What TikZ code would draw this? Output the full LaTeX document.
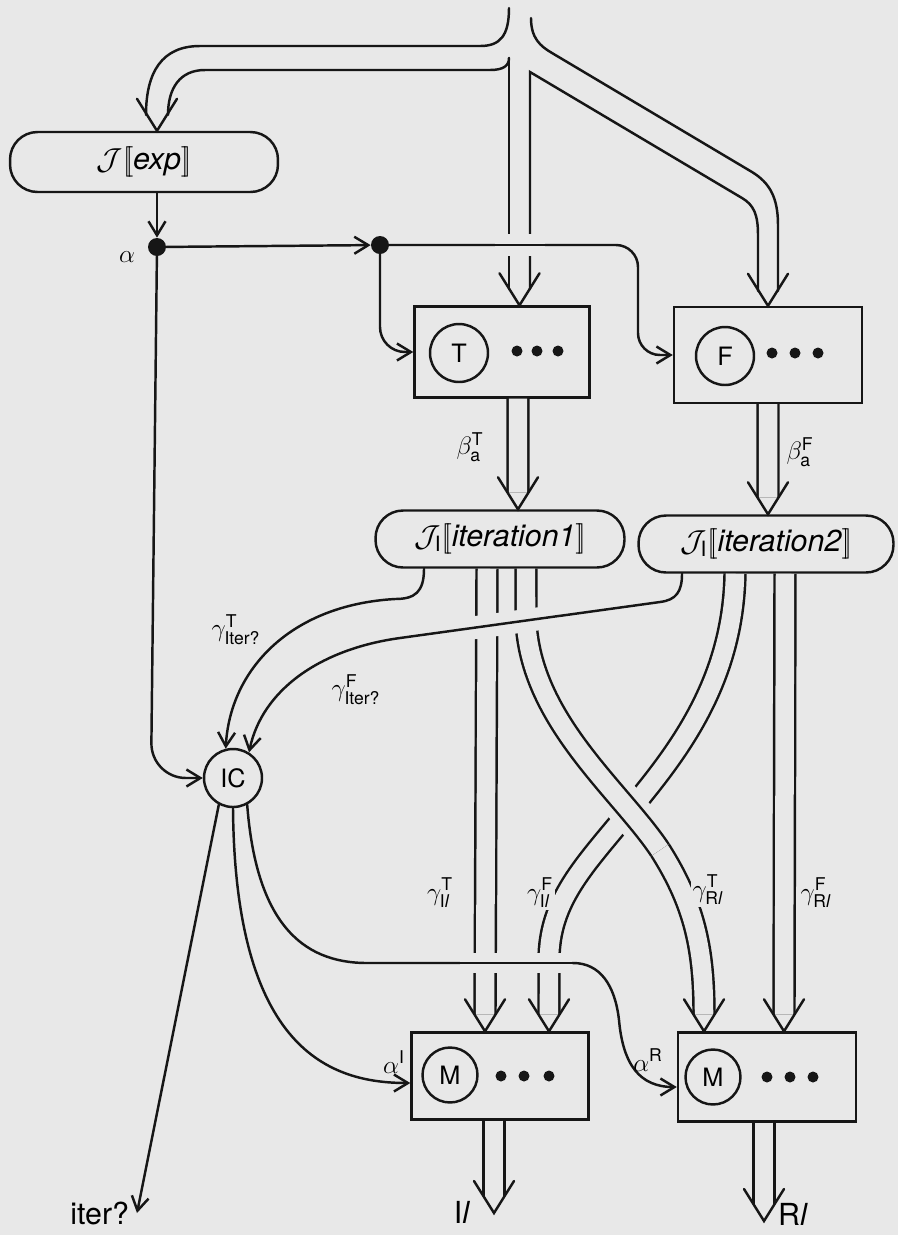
\documentclass[tikz,border=0pt]{standalone}
\usepackage{amsmath}
\usepackage{fontspec}
\setmainfont{TeX Gyre Heros}
\usetikzlibrary{arrows.meta, positioning}
\definecolor{paper}{RGB}{232,232,232}
\definecolor{ink}{RGB}{22,22,22}
\tikzset{
  wire/.style = {draw = ink, line width = 1.4pt, line cap = round},
  arr/.style = {wire, -{Straight Barb[length = 0.28cm, width = 0.34cm]}},
  pipe/.style = {draw = ink, line width = 1.4pt, double = paper, double distance = 0.37cm},
  gap/.style = {wire, preaction = {draw = paper, line width = #1, line cap = butt}},
  pill/.style = {draw = ink, line width = 1.4pt, rounded corners = 0.55cm, font = \LARGE, inner sep = 0pt},
  box/.style = {draw = ink, line width = 1.4pt, inner sep = 0pt},
  disc/.style = {circle, draw = ink, line width = 1.4pt, inner sep = 0pt, font = \Large},
  dot/.style = {circle, fill = ink, inner sep = 0pt, minimum size = 0.36cm},
  lab/.style = {font = \Large, inner sep = 1pt},
  vhead/.pic = {\draw[wire] (-20, -32) -- (0, 0) -- (20, -32);}
}

\begin{document}
\begin{tikzpicture}[x = 0.02cm, y = -0.02cm]
  \fill[paper, use as bounding box] (0, 0) rectangle (898, 1235);

  \node[pill, minimum width = 5.36cm, minimum height = 1.2cm] (exp) at (144, 162)
    {$\mathcal{J}[\![$\textit{exp}$]\!]$};
  \node[pill, minimum width = 4.98cm, minimum height = 1.14cm] (it1) at (500, 539)
    {$\mathcal{J}_{\text{I}}[\![$\textit{iteration1}$]\!]$};
  \node[pill, minimum width = 5.1cm, minimum height = 1.14cm] (it2) at (766, 544)
    {$\mathcal{J}_{\text{I}}[\![$\textit{iteration2}$]\!]$};

  \node[box, minimum width = 3.5cm, minimum height = 1.82cm] (tbox) at (502, 352) {};
  \node[box, minimum width = 3.76cm, minimum height = 1.92cm] (fbox) at (768, 355) {};
  \node[box, minimum width = 3.54cm, minimum height = 1.74cm] (mbox1) at (500, 1076) {};
  \node[box, minimum width = 3.56cm, minimum height = 1.78cm] (mbox2) at (767, 1077) {};
  \node[disc, minimum size = 1.16cm] (tc) at (459, 353) {T};
  \node[disc, minimum size = 1.16cm] (fc) at (725, 356) {F};
  \node[disc, minimum size = 1.1cm] (mc1) at (450, 1075) {M};
  \node[disc, minimum size = 1.1cm] (mc2) at (713, 1077) {M};
  \node[disc, minimum size = 1.16cm] (ic) at (233, 778) {IC};
  \node[dot] (d1) at (157, 247) {};
  \node[dot] (d2) at (380, 245) {};
  \node[lab] (alab) at (127, 257) {$\alpha$};

  \foreach \x/\y in {517/351, 537/351, 558/351, 772/353, 795/353, 818/353,
                     501/1076, 524/1076, 549/1076, 767/1077, 790/1077, 813/1077}
    \fill[ink] (\x, \y) circle [radius = 0.11cm];

  \draw[wire] (509, 8) .. controls (509, 36) and (500, 46) .. (480, 46)
    -- (200, 46) .. controls (162, 46) and (146, 72) .. (146, 115);
  \draw[wire] (168, 115) .. controls (168, 88) and (180, 70) .. (205, 70)
    -- (490, 70) .. controls (503, 70) and (509, 66) .. (509, 58);
  \draw[wire] (509, 58) -- (509, 289);
  \draw[wire] (530, 289) -- (530, 72) -- (742, 198)
    .. controls (754, 205) and (758, 215) .. (758, 235) -- (758, 291);
  \draw[wire] (531, 18) .. controls (531, 38) and (540, 46) .. (552, 53) -- (752, 172)
    .. controls (770, 183) and (778, 198) .. (778, 225) -- (778, 291);
  \pic at ([xshift = 0.26cm]exp.north) {vhead};
  \pic at ([xshift = 0.35cm]tbox.north) {vhead};
  \pic at (fbox.north) {vhead};

  \draw[arr] (exp.south -| d1) -- (d1);
  \draw[arr] (d1) -- (d2);
  \draw[arr, rounded corners = 0.44cm] (d2) -- (638, 245) -- (638, 355) -- (fbox.west);
  \draw[gap = 0.44cm] (495, 245) -- (545, 245);
  \draw[arr, rounded corners = 0.5cm] (d2) -- (380, 352) -- (tbox.west);
  \draw[arr, rounded corners = 0.7cm] (d1) -- (151, 778) -- (ic.west);

  \coordinate (inBT) at ([xshift = 0.36cm]it1.north);
  \coordinate (inBF) at ([xshift = 0.04cm]it2.north);
  \draw[pipe] ([xshift = 0.32cm]tbox.south) -- ([yshift = 0.34cm]inBT);
  \pic at (inBT) {vhead};
  \draw[pipe] (fbox.south) -- ([yshift = 0.34cm]inBF);
  \pic at (inBF) {vhead};
  \node[lab] (bt) at (470, 447) {$\beta^{\text{T}}_{\text{a}}$};
  \node[lab] (bf) at (800, 452) {$\beta^{\text{F}}_{\text{a}}$};

  \coordinate (inA) at ([xshift = -0.3cm]mbox1.north);
  \coordinate (inC) at ([xshift = 0.98cm]mbox1.north);
  \coordinate (inB) at ([xshift = -1.26cm]mbox2.north);
  \coordinate (inD) at ([xshift = 0.34cm]mbox2.north);
  \draw[pipe] ([xshift = -0.26cm]it1.south) -- ([yshift = 0.34cm]inA);
  \draw[pipe] ([xshift = 0.38cm]it2.south) -- ([yshift = 0.34cm]inD);
  \draw[pipe] ([xshift = -0.62cm]it2.south) .. controls (733, 680) and (680, 750) .. (630, 810)
    .. controls (585, 865) and (549, 900) .. (549, 960) -- ([yshift = 0.34cm]inC);
  \draw[pipe] ([xshift = 0.52cm]it1.south) -- (526, 620) .. controls (530, 720) and (620, 790) .. (660, 850)
    .. controls (695, 905) and (704, 950) .. ([yshift = 0.34cm]inB);
  \draw[pipe, preaction = {draw = paper, line width = 0.8cm}]
    (526, 620) .. controls (530, 720) and (620, 790) .. (660, 850);
  \foreach \tip in {inA, inB, inC, inD}
    \pic at (\tip) {vhead};

  \draw[arr] ([xshift = -1.52cm]it1.south) .. controls (424, 592) and (415, 599) .. (395, 599)
    .. controls (290, 605) and (230, 670) .. (ic.104);
  \draw[arr] ([xshift = -1.68cm]it2.south) .. controls (682, 592) and (676, 600) .. (660, 602)
    -- (400, 638) .. controls (320, 649) and (262, 690) .. (ic.58);
  \draw[gap = 0.46cm] (560, 615.8) -- (460, 629.7);
  \node[lab] (gti) at (236, 630) {$\gamma^{\text{T}}_{\text{Iter?}}$};
  \node[lab] (gfi) at (356, 690) {$\gamma^{\text{F}}_{\text{Iter?}}$};

  \draw[arr] (ic.south) .. controls (235, 1050) and (330, 1083) .. ([yshift = -0.14cm]mbox1.west);
  \draw[arr] (ic.298) .. controls (256, 920) and (300, 963) .. (367, 963) -- (573, 963)
    .. controls (600, 963) and (615, 985) .. (619, 1020)
    .. controls (623, 1065) and (640, 1087) .. ([yshift = -0.2cm]mbox2.west);
  \draw[gap = 0.4cm] (460, 963) -- (572, 963);
  \node[lab] (ai) at (394, 1062) {$\alpha^{\text{I}}$};
  \node[lab] (ar) at (648, 1060) {$\alpha^{\text{R}}$};

  \node[lab] (gtl) at (440, 893) {$\gamma^{\text{T}}_{\text{I\textit{l}}}$};
  \node[lab, fill = paper] (gfl) at (540, 893) {$\gamma^{\text{F}}_{\text{I\textit{l}}}$};
  \node[lab, fill = paper] (gtr) at (708, 890) {$\gamma^{\text{T}}_{\text{R\textit{l}}}$};
  \node[lab] (gfr) at (816, 893) {$\gamma^{\text{F}}_{\text{R\textit{l}}}$};

  \coordinate (iterend) at (137, 1213);
  \draw[arr] (ic.242) -- (iterend);
  \node[font = \LARGE, left = 1pt of iterend] (iterq) {iter?};

  \coordinate (out1) at (494, 1213);
  \coordinate (out2) at (764, 1221);
  \draw[pipe] (mbox1.south -| out1) -- ([yshift = 0.34cm]out1);
  \pic at (out1) {vhead};
  \draw[pipe] (mbox2.south -| out2) -- ([yshift = 0.34cm]out2);
  \pic at (out2) {vhead};
  \node[lab, font = \LARGE] (lout) at (462, 1212) {I\textit{l}};
  \node[lab, font = \LARGE] (rout) at (793, 1214) {R\textit{l}};
\end{tikzpicture}
\end{document}
